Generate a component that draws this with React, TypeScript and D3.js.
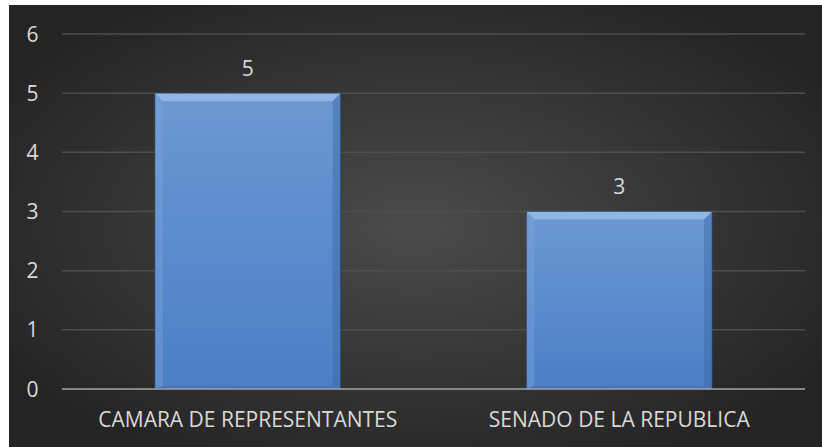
import React, { useEffect, useRef } from 'react';
import * as d3 from 'd3';

const categories = ['CAMARA DE REPRESENTANTES', 'SENADO DE LA REPUBLICA'];
const values = [5, 3];
const yTicks = [0, 1, 2, 3, 4, 5, 6];

const W = 822;
const H = 447;

export default function App() {
  const svgRef = useRef<SVGSVGElement>(null);

  useEffect(() => {
    if (!svgRef.current) return;
    const svg = d3.select(svgRef.current);
    svg.selectAll('*').remove();

    const defs = svg.append('defs');

    const bg = defs.append('radialGradient').attr('id', 'bg')
      .attr('cx', '50%').attr('cy', '50%').attr('r', '60%');
    bg.append('stop').attr('offset', '0%').attr('stop-color', '#4b4b4b');
    bg.append('stop').attr('offset', '100%').attr('stop-color', '#242424');

    const barGrad = defs.append('linearGradient').attr('id', 'barGrad')
      .attr('x1', 0).attr('y1', 0).attr('x2', 0).attr('y2', 1);
    barGrad.append('stop').attr('offset', '0%').attr('stop-color', '#6d98d2');
    barGrad.append('stop').attr('offset', '100%').attr('stop-color', '#4a7fc6');

    const font = "'Open Sans', 'Liberation Sans', sans-serif";

    // chart area background
    svg.append('rect')
      .attr('x', 9).attr('y', 5)
      .attr('width', W - 9).attr('height', H - 5)
      .attr('fill', 'url(#bg)');

    const left = 62, right = 805, top = 34, bottom = 389;

    const x = d3.scaleBand<string>()
      .domain(categories)
      .range([left, right])
      .paddingInner(0.5)
      .paddingOuter(0.25);

    const y = d3.scaleLinear().domain([0, 6]).range([bottom, top]);

    // gridlines
    svg.append('g').selectAll('line')
      .data(yTicks.filter(t => t > 0))
      .enter().append('line')
      .attr('x1', left).attr('x2', right)
      .attr('y1', d => y(d)).attr('y2', d => y(d))
      .attr('stroke', '#4e4e4e').attr('stroke-width', 1.5);

    // y tick labels
    svg.append('g').selectAll('text')
      .data(yTicks)
      .enter().append('text')
      .attr('x', 32.5).attr('y', d => y(d))
      .attr('dy', '0.36em')
      .attr('text-anchor', 'middle')
      .attr('fill', '#d9d9d9')
      .attr('font-family', font)
      .attr('font-size', 21)
      .text(d => d);

    // bars with a bevel look
    const bars = svg.append('g').selectAll('g')
      .data(values)
      .enter().append('g');

    const bw = x.bandwidth();
    const bev = 8;

    bars.append('rect')
      .attr('x', (_, i) => x(categories[i])!)
      .attr('y', d => y(d))
      .attr('width', bw)
      .attr('height', d => bottom - y(d))
      .attr('fill', 'url(#barGrad)');

    // top bevel
    bars.append('path')
      .attr('d', (d, i) => {
        const x0 = x(categories[i])!, x1 = x0 + bw, y0 = y(d);
        return `M${x0},${y0}L${x1},${y0}L${x1 - bev},${y0 + bev}L${x0 + bev},${y0 + bev}Z`;
      })
      .attr('fill', '#9cc0ec').attr('opacity', 0.75);
    // left bevel
    bars.append('path')
      .attr('d', (d, i) => {
        const x0 = x(categories[i])!, y0 = y(d);
        return `M${x0},${y0}L${x0 + bev},${y0 + bev}L${x0 + bev},${bottom - 3}L${x0},${bottom}Z`;
      })
      .attr('fill', '#7ea6dc').attr('opacity', 0.4);
    // right bevel
    bars.append('path')
      .attr('d', (d, i) => {
        const x1 = x(categories[i])! + bw, y0 = y(d);
        return `M${x1},${y0}L${x1 - bev},${y0 + bev}L${x1 - bev},${bottom - 3}L${x1},${bottom}Z`;
      })
      .attr('fill', '#3a68a8').attr('opacity', 0.45);
    // bottom bevel
    bars.append('path')
      .attr('d', (_, i) => {
        const x0 = x(categories[i])!, x1 = x0 + bw;
        return `M${x0},${bottom}L${x0 + bev},${bottom - 3}L${x1 - bev},${bottom - 3}L${x1},${bottom}Z`;
      })
      .attr('fill', '#3d6fb3').attr('opacity', 0.6);
    // dark edge
    bars.append('rect')
      .attr('x', (_, i) => x(categories[i])!)
      .attr('y', d => y(d))
      .attr('width', bw)
      .attr('height', d => bottom - y(d))
      .attr('fill', 'none')
      .attr('stroke', '#1f3a60').attr('stroke-width', 0.8).attr('stroke-opacity', 0.7);

    // value labels
    svg.append('g').selectAll('text')
      .data(values)
      .enter().append('text')
      .attr('x', (_, i) => x(categories[i])! + bw / 2)
      .attr('y', d => y(d) - 25)
      .attr('dy', '0.36em')
      .attr('text-anchor', 'middle')
      .attr('fill', '#d9d9d9')
      .attr('font-family', font)
      .attr('font-size', 21)
      .text(d => d);

    // baseline
    svg.append('line')
      .attr('x1', left).attr('x2', right)
      .attr('y1', bottom).attr('y2', bottom)
      .attr('stroke', '#a6a6a6').attr('stroke-width', 1.5);

    // category labels
    svg.append('g').selectAll('text')
      .data(categories)
      .enter().append('text')
      .attr('x', d => x(d)! + bw / 2)
      .attr('y', 419)
      .attr('dy', '0.36em')
      .attr('text-anchor', 'middle')
      .attr('fill', '#d9d9d9')
      .attr('font-family', font)
      .attr('font-size', 21)
      .text(d => d);
  }, []);

  return (
    <svg
      ref={svgRef}
      width={W}
      height={H}
      style={{ position: 'absolute', left: 0, top: 0, background: '#ffffff' }}
    />
  );
}
